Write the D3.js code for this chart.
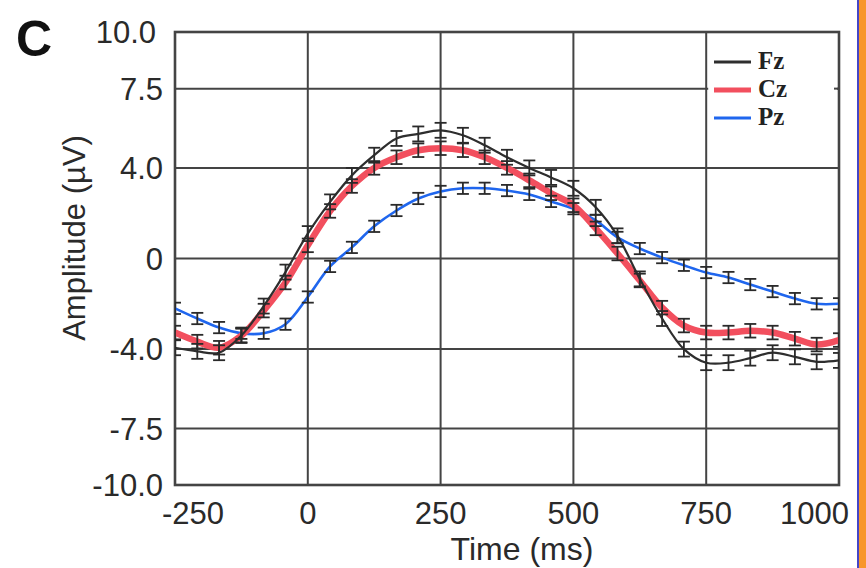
<!DOCTYPE html>
<html>
<head>
<meta charset="utf-8">
<script src="https://cdn.jsdelivr.net/npm/d3@7"></script>
<style>
  html, body { margin: 0; padding: 0; background: #fff; }
  svg { display: block; }
</style>
</head>
<body>
<div id="chart"></div>
<script>
// ERP waveforms, sampled every ~42 ms
const times = [-250, -208, -167, -125, -83, -42, 0, 42, 83, 125, 167, 208, 250, 292, 333, 375,
  417, 458, 500, 542, 583, 625, 667, 708, 750, 792, 833, 875, 917, 958, 1000];
const fz = [-3.94, -4.1, -4.16, -3.4, -2.1, -0.6, 1.1, 2.5, 3.67, 4.56, 5.3, 5.5, 5.66, 5.44, 5.0, 4.47,
  4.0, 3.58, 3.1, 2.26, 1.0, -0.9, -2.65, -4.0, -4.6, -4.6, -4.4, -4.16, -4.34, -4.56, -4.5];
const cz = [-3.27, -3.67, -3.94, -3.4, -2.3, -1.06, 0.58, 2.1, 3.2, 4.0, 4.47, 4.78, 4.87, 4.78, 4.47, 4.0,
  3.45, 2.88, 2.35, 1.33, 0.22, -0.97, -2.17, -2.96, -3.27, -3.27, -3.19, -3.27, -3.54, -3.8, -3.6];
const pz = [-2.2, -2.65, -3.05, -3.3, -3.3, -2.9, -1.7, -0.35, 0.49, 1.42, 2.12, 2.65, 2.96, 3.1, 3.1, 3.0,
  2.83, 2.52, 2.2, 1.68, 0.93, 0.44, 0.04, -0.3, -0.62, -0.84, -1.15, -1.46, -1.77, -2.0, -2.0];
const sem = { Fz: 0.33, Cz: 0.3, Pz: 0.25 };

const xTicks = [-250, 0, 250, 500, 750, 1000];
const yTicks = [-10, -7.5, -4, 0, 4, 7.5, 10];
const yTickLabels = ["-10.0", "-7.5", "-4.0", "0", "4.0", "7.5", "10.0"];

const series = [
  { name: "Pz", values: pz, color: "#1f66ee", width: 2.6 },
  { name: "Cz", values: cz, color: "#f24f5e", width: 6.5 },
  { name: "Fz", values: fz, color: "#2e2e2e", width: 2.2 }
];
const legendOrder = ["Fz", "Cz", "Pz"];

const width = 866, height = 568;
const svg = d3.select("#chart").append("svg")
  .attr("width", width).attr("height", height);

const x = d3.scaleLinear().domain([-250, 1000]).range([175, 839]);
const y = d3.scaleLinear().domain([-10, 10]).range([485, 32]);
const gridColor = "#444";

svg.append("defs").append("clipPath").attr("id", "plot")
  .append("rect").attr("x", 175).attr("y", 32).attr("width", 664).attr("height", 453);

// horizontal grid
svg.append("g").selectAll("line").data(yTicks.filter(d => d > -10 && d < 10)).join("line")
  .attr("x1", 175).attr("x2", 839)
  .attr("y1", d => y(d)).attr("y2", d => y(d))
  .attr("stroke", gridColor).attr("stroke-width", 2);

// legend backing (covers the upper-right grid cell)
svg.append("rect").attr("x", x(750) + 2).attr("y", y(10) + 2)
  .attr("width", x(1000) - x(750) - 4).attr("height", y(4) - y(10) - 4)
  .attr("fill", "#fff");
svg.append("line").attr("x1", x(1000) - 5).attr("x2", x(1000))
  .attr("y1", y(7.5)).attr("y2", y(7.5)).attr("stroke", gridColor).attr("stroke-width", 2);

// vertical grid
svg.append("g").selectAll("line").data(xTicks.filter(d => d > -250 && d < 1000)).join("line")
  .attr("x1", d => x(d)).attr("x2", d => x(d))
  .attr("y1", 32).attr("y2", 485)
  .attr("stroke", gridColor).attr("stroke-width", 2);

// frame
svg.append("rect").attr("x", 175).attr("y", 32).attr("width", 664).attr("height", 453)
  .attr("fill", "none").attr("stroke", gridColor).attr("stroke-width", 2.6);

// curves
const line = d3.line().x((d, i) => x(times[i])).y(d => y(d)).curve(d3.curveCatmullRom.alpha(0.5));
const plot = svg.append("g").attr("clip-path", "url(#plot)");
series.forEach(s => {
  plot.append("path").datum(s.values)
    .attr("d", line)
    .attr("fill", "none")
    .attr("stroke", s.color)
    .attr("stroke-width", s.width)
    .attr("stroke-linejoin", "round");
});

// error bars
series.forEach(s => {
  const e = sem[s.name];
  const g = plot.append("g").attr("stroke", "#2a2a2a").attr("stroke-width", 1.8);
  s.values.forEach((v, i) => {
    const cx = x(times[i]);
    g.append("line").attr("x1", cx).attr("x2", cx).attr("y1", y(v + e)).attr("y2", y(v - e));
    g.append("line").attr("x1", cx - 6).attr("x2", cx + 6).attr("y1", y(v + e)).attr("y2", y(v + e));
    g.append("line").attr("x1", cx - 6).attr("x2", cx + 6).attr("y1", y(v - e)).attr("y2", y(v - e));
  });
});

// tick labels
const font = "'Liberation Sans', Arial, sans-serif";
svg.append("g").selectAll("text").data(yTicks).join("text")
  .attr("x", d => d === 10 ? 156 : 163).attr("y", d => y(d)).attr("dy", "0.36em")
  .attr("text-anchor", "end")
  .attr("font-family", font).attr("font-size", 31).attr("fill", "#2a2a2a")
  .text((d, i) => yTickLabels[i]);

svg.append("g").selectAll("text").data(xTicks).join("text")
  .attr("x", d => d === -250 ? 162 : d === 1000 ? 849 : x(d))
  .attr("y", 524)
  .attr("text-anchor", d => d === -250 ? "start" : d === 1000 ? "end" : "middle")
  .attr("font-family", font).attr("font-size", 31).attr("fill", "#2a2a2a")
  .text(d => d);

svg.append("text").attr("x", 522).attr("y", 560).attr("text-anchor", "middle")
  .attr("font-family", font).attr("font-size", 32).attr("fill", "#2a2a2a")
  .text("Time (ms)");

svg.append("text").attr("transform", "translate(85,238) rotate(-90)")
  .attr("text-anchor", "middle")
  .attr("font-family", font).attr("font-size", 31).attr("fill", "#2a2a2a")
  .text("Amplitude (\u00b5V)");

svg.append("text").attr("x", 16).attr("y", 56)
  .attr("font-family", font).attr("font-size", 50).attr("font-weight", "bold").attr("fill", "#111")
  .text("C");

// legend
const lg = svg.append("g");
legendOrder.forEach((name, i) => {
  const s = series.find(d => d.name === name);
  const ly = 62 + i * 28;
  lg.append("line").attr("x1", 714).attr("x2", 751).attr("y1", ly).attr("y2", ly)
    .attr("stroke", s.color).attr("stroke-width", name === "Cz" ? 5 : 3);
  lg.append("text").attr("x", 758).attr("y", ly + 7)
    .attr("font-family", "'Liberation Serif', 'Times New Roman', serif")
    .attr("font-size", 25).attr("font-weight", "bold").attr("fill", "#222")
    .text(name);
});

// right-edge slide border
svg.append("rect").attr("x", 859).attr("y", 0).attr("width", 7).attr("height", height).attr("fill", "#f8962a");
svg.append("line").attr("x1", 858).attr("x2", 858).attr("y1", 0).attr("y2", height)
  .attr("stroke", "#4545c8").attr("stroke-width", 2);
</script>
</body>
</html>
